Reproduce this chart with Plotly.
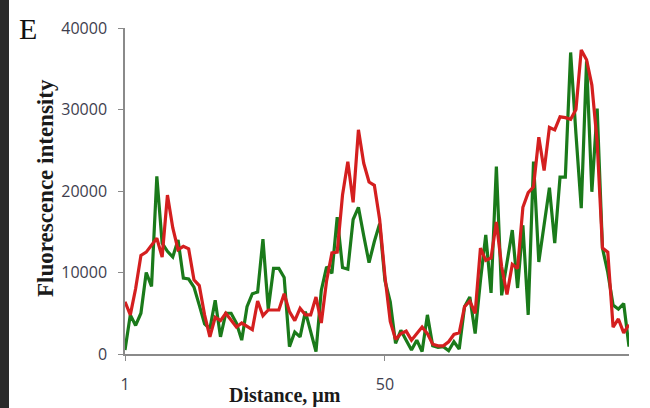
import plotly.graph_objects as go

distance = list(range(1, 97))

green = [
    500, 4800, 3500, 5000, 10000, 8300, 21800, 13600, 12600, 11900,
    14000, 9300, 9200, 8200, 6000, 3700, 3100, 6600, 2100, 5000,
    5000, 3800, 1700, 5800, 7400, 7600, 14100, 5500, 10500, 10500,
    9400, 900, 2700, 2100, 5200, 2600, 300, 7800, 10700, 9900,
    16800, 10600, 10400, 16500, 18000, 14500, 11200, 13800, 16000, 9000,
    6400, 1300, 2900, 1700, 500, 1700, 300, 4800, 1000, 800,
    900, 400, 1500, 600, 5800, 7000, 2500, 9000, 14600, 7500,
    23000, 7200, 11000, 15200, 8100, 15800, 4800, 23600, 11300, 16000,
    20400, 13600, 21700, 21700, 37000, 27000, 17900, 35900, 19900, 30100,
    13000, 10000, 6000, 5500, 6200, 900,
]

red = [
    6400, 4800, 8000, 12100, 12500, 13400, 14200, 11900, 19500, 15500,
    12800, 13200, 12900, 9100, 8400, 4800, 2100, 4500, 4100, 5000,
    4200, 3300, 3800, 3400, 3000, 6500, 4700, 5400, 5400, 5400,
    7400, 5200, 4100, 5600, 4800, 4800, 7000, 3800, 9000, 12400,
    12500, 19500, 23600, 18600, 27500, 23400, 21100, 20700, 16500, 9500,
    4000, 1800, 2500, 2800, 1700, 2500, 3300, 2500, 1200, 1000,
    1000, 1500, 2400, 2600, 5800, 6500, 5000, 13000, 11500, 11800,
    16200, 10700, 7300, 11000, 10500, 18000, 19800, 20500, 26600, 22500,
    27800, 27500, 29100, 29000, 28800, 30000, 37300, 36100, 33000, 26000,
    13000, 12500, 3300, 4300, 2600, 3600,
]

y_ticks = [0, 10000, 20000, 30000, 40000]
x_tickvals = [1, 50]
x_ticktext = ["1", "50"]

fig = go.Figure()
fig.add_trace(go.Scatter(x=distance, y=green, mode="lines",
                         line=dict(color="#1a7a1a", width=3.2),
                         showlegend=False, hoverinfo="skip"))
fig.add_trace(go.Scatter(x=distance, y=red, mode="lines",
                         line=dict(color="#d41f1f", width=3.2),
                         showlegend=False, hoverinfo="skip"))

tick_font = dict(family="Open Sans", size=16, color="#3e3e4e")

fig.update_layout(
    width=650, height=408,
    margin=dict(l=125, r=21, t=28, b=54),
    paper_bgcolor="white", plot_bgcolor="white",
    xaxis=dict(range=[1, 96], showgrid=False, zeroline=False,
               showline=True, linecolor="#8a8a8a", linewidth=1.5,
               ticks="outside", ticklen=5, tickcolor="#8a8a8a",
               tickvals=x_tickvals, ticktext=x_ticktext,
               tickfont=tick_font, ticklabelstandoff=10),
    yaxis=dict(range=[0, 40000], showgrid=False, zeroline=False,
               showline=True, linecolor="#8a8a8a", linewidth=1.5,
               ticks="outside", ticklen=5, tickcolor="#8a8a8a",
               tickvals=y_ticks, ticktext=[str(v) for v in y_ticks],
               tickfont=tick_font, ticklabelstandoff=8),
)

# dark strip on the left edge (scan border)
fig.add_shape(type="rect", xref="paper", yref="paper",
              x0=-125 / 504, x1=-116 / 504, y0=-54 / 326, y1=1 + 28 / 326,
              fillcolor="#2a2a2a", line=dict(width=0), layer="above")

fig.add_annotation(text="E", xref="paper", yref="paper",
                   x=-108 / 504, y=1 + 0 / 326, xanchor="left", yanchor="middle",
                   showarrow=False,
                   font=dict(family="Liberation Serif", size=30, color="#111111"))

fig.add_annotation(text="<b>Fluorescence intensity</b>", xref="paper", yref="paper",
                   x=-80 / 504, y=(354 - 188) / 326, textangle=-90,
                   xanchor="center", yanchor="middle", showarrow=False,
                   font=dict(family="Liberation Serif", size=23, color="#1a1a1a"))

fig.add_annotation(text="<b>Distance, µm</b>", xref="paper", yref="paper",
                   x=(285 - 125) / 504, y=-(395 - 354) / 326,
                   xanchor="center", yanchor="middle", showarrow=False,
                   font=dict(family="Liberation Serif", size=20, color="#1a1a1a"))

fig.write_html("out.html",
               config={"displayModeBar": False},
               post_script="document.body.style.margin='0';"
                           "document.body.style.overflow='hidden';")
